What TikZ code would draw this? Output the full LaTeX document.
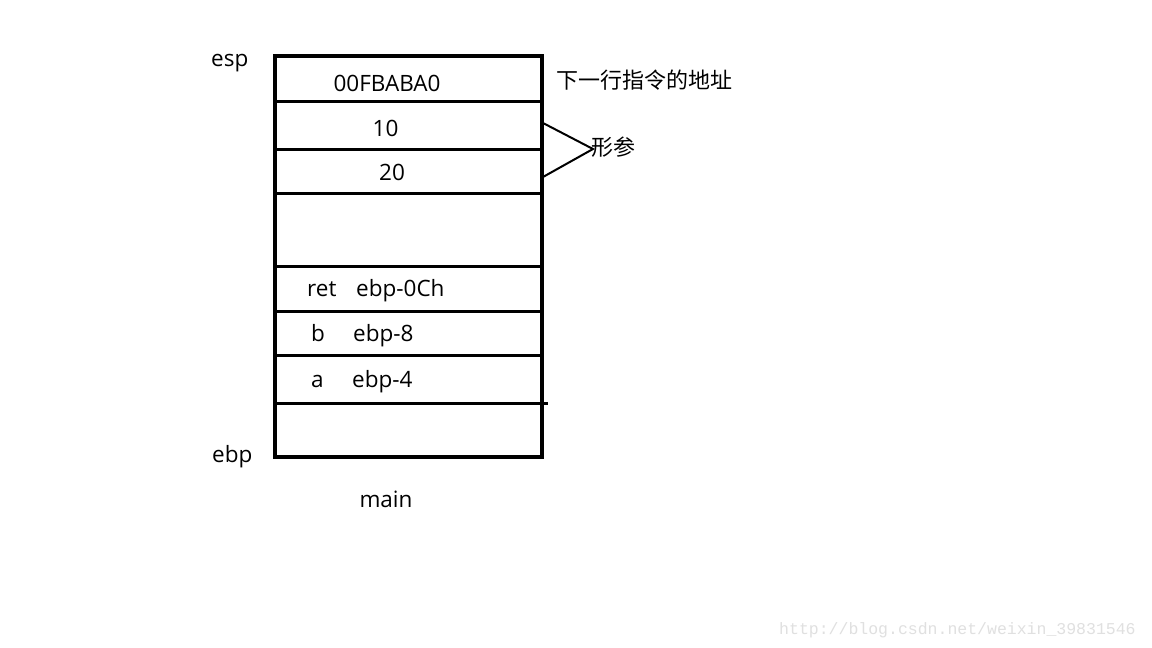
\documentclass[tikz,border=0pt]{standalone}
\usepackage{fontspec}
\setmainfont{Open Sans}
\newfontfamily\cjk{Noto Sans CJK SC}
\newfontfamily\wm{Liberation Mono}
\begin{document}
\begin{tikzpicture}[x=1pt,y=-1pt,
  lbl/.style={inner sep=0pt,anchor=base west,font=\fontsize{22.5}{26}\selectfont},
  cjklbl/.style={inner sep=0pt,anchor=west,font=\cjk\fontsize{22}{26}\selectfont},
  rowline/.style={line width=3pt},
  frame/.style={line width=4pt}]
\useasboundingbox[fill=white] (0,0) rectangle (1152,648);
% frame
\node[frame,draw,minimum width=267pt,minimum height=401pt,inner sep=0pt,outer sep=0pt,anchor=north west] (stack) at (275,56) {};
% row separators
\coordinate (l1) at (275,101.5); \coordinate (r1) at (542,101.5);
\coordinate (l2) at (275,149.5); \coordinate (r2) at (542,149.5);
\coordinate (l3) at (275,193.5); \coordinate (r3) at (542,193.5);
\coordinate (l4) at (275,266);   \coordinate (r4) at (542,266);
\coordinate (l5) at (275,311.5); \coordinate (r5) at (542,311.5);
\coordinate (l6) at (275,355);   \coordinate (r6) at (542,355);
\coordinate (l7) at (275,403.5); \coordinate (r7) at (548,403.5);
\foreach \i in {1,...,7} {\draw[rowline] (l\i) -- (r\i);}
% chevron
\coordinate (c1) at (543,123);
\coordinate (ctip) at (593,149);
\coordinate (c2) at (543,177);
\draw[line width=2pt] (c1) -- (ctip) -- (c2);
% labels
\node[lbl] (esp) at (211,66) {esp};
\node[lbl] (ebp) at (212,462) {ebp};
\node[lbl,anchor=base] (v0) at (387,91.5) {00FBABA0};
\node[lbl,anchor=base] (v1) at (385.5,136) {10};
\node[lbl,anchor=base] (v2) at (392,180) {20};
\node[lbl] (ret) at (307,296) {ret};
\node[lbl] (retv) at (356,296) {ebp-0Ch};
\node[lbl] (b) at (311,341) {b};
\node[lbl] (bv) at (353,341) {ebp-8};
\node[lbl] (a) at (311,387) {a};
\node[lbl] (av) at (352,387) {ebp-4};
\node[lbl,anchor=base] (main) at (386,507) {main};
\node[cjklbl] (next) at (556,80) {下一行指令的地址};
\node[cjklbl] (param) at (591,147) {形参};
\node[inner sep=0pt,anchor=base west,text=black!12,font=\wm\fontsize{16.5}{18}\selectfont] (wmk) at (779,634) {http://blog.csdn.net/weixin\_39831546};
\end{tikzpicture}
\end{document}
